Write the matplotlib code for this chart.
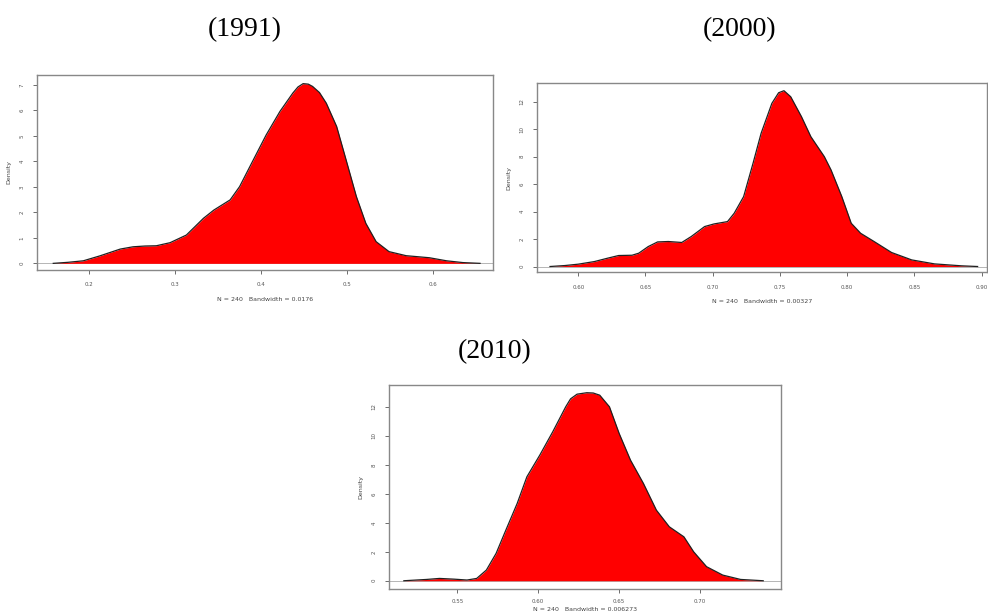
import matplotlib
matplotlib.use("Agg")
import matplotlib.pyplot as plt

# ---- data (density curves) ----
x1991 = [0.158, 0.175, 0.193, 0.212, 0.236, 0.251, 0.265, 0.278, 0.294, 0.313, 0.333, 0.345,
         0.364, 0.375, 0.391, 0.406, 0.422, 0.437, 0.443, 0.449, 0.455, 0.460, 0.468, 0.476,
         0.488, 0.499, 0.511, 0.522, 0.534, 0.549, 0.569, 0.596, 0.616, 0.635, 0.655]
y1991 = [0.0, 0.04, 0.10, 0.29, 0.56, 0.65, 0.68, 0.69, 0.81, 1.11, 1.77, 2.09,
         2.49, 3.01, 4.06, 5.04, 5.96, 6.68, 6.92, 7.05, 7.03, 6.94, 6.70, 6.28,
         5.37, 4.06, 2.62, 1.57, 0.85, 0.46, 0.30, 0.22, 0.10, 0.03, 0.0]

x2000 = [0.579, 0.590, 0.600, 0.612, 0.622, 0.630, 0.640, 0.645, 0.652, 0.659, 0.667, 0.677,
         0.684, 0.694, 0.701, 0.711, 0.716, 0.723, 0.730, 0.736, 0.744, 0.749, 0.753, 0.758,
         0.766, 0.773, 0.783, 0.788, 0.796, 0.803, 0.810, 0.820, 0.833, 0.848, 0.865, 0.885,
         0.897]
y2000 = [0.0, 0.07, 0.17, 0.36, 0.61, 0.80, 0.82, 0.97, 1.45, 1.79, 1.82, 1.75,
         2.18, 2.91, 3.10, 3.27, 3.88, 5.09, 7.52, 9.70, 11.88, 12.65, 12.80, 12.36,
         10.91, 9.45, 8.00, 7.03, 5.09, 3.15, 2.42, 1.82, 1.02, 0.48, 0.19, 0.05,
         0.0]

x2010 = [0.517, 0.531, 0.539, 0.548, 0.556, 0.562, 0.568, 0.574, 0.580, 0.587, 0.593, 0.601,
         0.609, 0.617, 0.620, 0.624, 0.630, 0.634, 0.638, 0.644, 0.650, 0.657, 0.665, 0.673,
         0.681, 0.690, 0.696, 0.704, 0.714, 0.725, 0.739]
y2010 = [0.0, 0.09, 0.16, 0.11, 0.05, 0.16, 0.74, 1.89, 3.49, 5.33, 7.17, 8.67,
         10.28, 12.00, 12.55, 12.87, 12.97, 12.95, 12.80, 12.00, 10.16, 8.32, 6.71, 4.87,
         3.72, 3.03, 2.00, 0.97, 0.39, 0.09, 0.0]

titles = ["(1991)", "(2000)", "(2010)"]
xlabels = ["N = 240   Bandwidth = 0.0176",
           "N = 240   Bandwidth = 0.00327",
           "N = 240   Bandwidth = 0.006273"]
xticks1991 = [0.2, 0.3, 0.4, 0.5, 0.6]
xticks2000 = [0.60, 0.65, 0.70, 0.75, 0.80, 0.85, 0.90]
xticks2010 = [0.55, 0.60, 0.65, 0.70]
yticks1991 = [0, 1, 2, 3, 4, 5, 6, 7]
yticks2000 = [0, 2, 4, 6, 8, 10, 12]
yticks2010 = [0, 2, 4, 6, 8, 10, 12]

fig = plt.figure(figsize=(9.88, 6.14), dpi=100)

panels = [
    dict(rect=[0.0374, 0.5603, 0.4615, 0.3176], x=x1991, y=y1991, xt=xticks1991, yt=yticks1991,
         xlim=(0.139, 0.670), ylim=(-0.26, 7.39), xfmt="%.1f", yfmt="%d",
         title_xy=(245 / 988, 1 - 30 / 614), pad=6, lpad=7),
    dict(rect=[0.5435, 0.5570, 0.4555, 0.3078], x=x2000, y=y2000, xt=xticks2000, yt=yticks2000,
         xlim=(0.5693, 0.904), ylim=(-0.40, 13.36), xfmt="%.2f", yfmt="%d",
         title_xy=(740 / 988, 1 - 30 / 614), pad=6, lpad=7),
    dict(rect=[0.3937, 0.0407, 0.3968, 0.3322], x=x2010, y=y2010, xt=xticks2010, yt=yticks2010,
         xlim=(0.5078, 0.750), ylim=(-0.57, 13.5), xfmt="%.2f", yfmt="%d",
         title_xy=(495 / 988, 1 - 352 / 614), pad=4, lpad=2),
]

for i, p in enumerate(panels):
    ax = fig.add_axes(p["rect"])
    ax.axhline(0, color="#aaaaaa", lw=0.6, zorder=1)
    ax.fill_between(p["x"], p["y"], 0, color="#ff0000", lw=0, zorder=2)
    ax.plot(p["x"], p["y"], color="#202020", lw=0.9, zorder=3, solid_joinstyle="round")
    ax.set_xlim(*p["xlim"])
    ax.set_ylim(*p["ylim"])
    ax.set_xticks(p["xt"])
    ax.set_xticklabels([p["xfmt"] % v for v in p["xt"]])
    ax.set_yticks(p["yt"])
    ax.set_yticklabels([p["yfmt"] % v for v in p["yt"]], rotation=90, va="center")
    ax.tick_params(axis="x", direction="out", length=3, width=0.6, labelsize=4,
                   colors="#555555", pad=p["pad"])
    ax.tick_params(axis="y", direction="out", length=3, width=0.6, labelsize=4,
                   colors="#555555", pad=6)
    for s in ax.spines.values():
        s.set_color("#888888")
        s.set_linewidth(1.0)
    ax.set_ylabel("Density", fontsize=4.5, color="#444444", labelpad=6)
    ax.set_xlabel(xlabels[i], fontsize=4.5, color="#444444", labelpad=p["lpad"])
    fig.text(p["title_xy"][0], p["title_xy"][1], titles[i], ha="center", va="center",
             fontsize=20, family="Liberation Serif")

fig.savefig("out.png", dpi=100)
